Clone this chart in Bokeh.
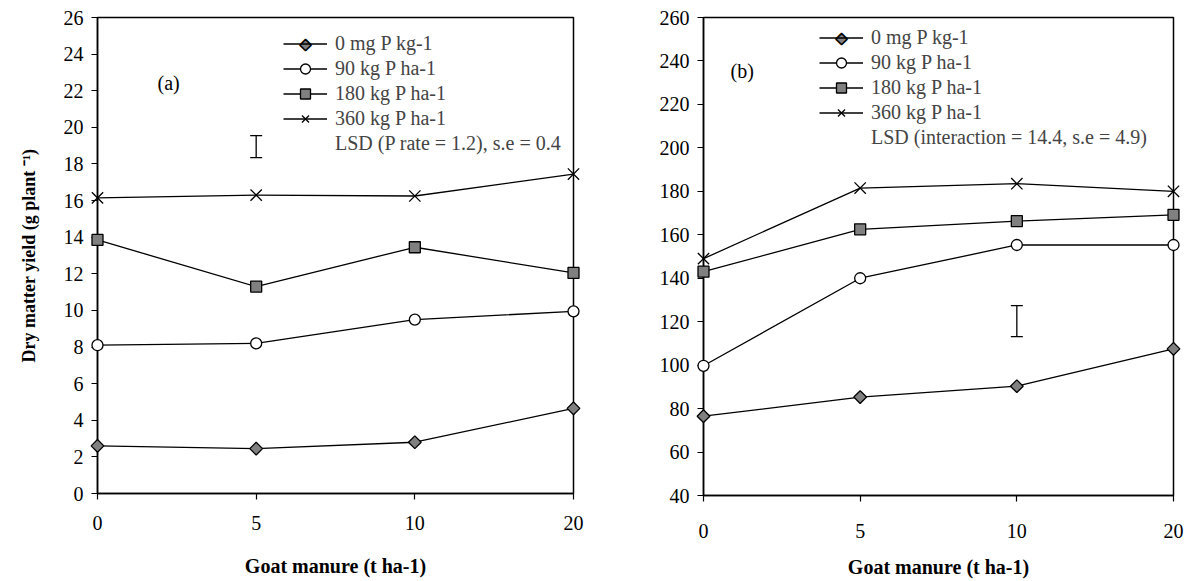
import math
from bokeh.plotting import figure
from bokeh.layouts import row
from bokeh.models import (Range1d, FixedTicker, Legend, LegendItem, Label,
                          Whisker, TeeHead, ColumnDataSource)
from bokeh.embed import file_html
from bokeh.resources import INLINE

# ---------------- data ----------------
manure = ["0", "5", "10", "20"]
series_names = ["0 mg P kg-1", "90 kg P ha-1", "180 kg P ha-1", "360 kg P ha-1"]

# panel (a) dry matter yield (g plant-1)
a_p0 = [2.6, 2.45, 2.8, 4.65]
a_p90 = [8.1, 8.2, 9.5, 9.95]
a_p180 = [13.85, 11.3, 13.45, 12.05]
a_p360 = [16.15, 16.3, 16.25, 17.45]
a_lsd_pos = 1           # at manure = 5
a_lsd_low = 18.35
a_lsd_high = 19.55
a_lsd_text = "LSD (P rate = 1.2), s.e = 0.4"
a_yticks = list(range(0, 27, 2))

# panel (b)
b_p0 = [76.5, 85.3, 90.3, 107.5]
b_p90 = [99.7, 140.0, 155.3, 155.3]
b_p180 = [143.0, 162.5, 166.3, 169.2]
b_p360 = [149.0, 181.5, 183.5, 180.0]
b_lsd_pos = 2           # at manure = 10
b_lsd_low = 113.1
b_lsd_high = 127.4
b_lsd_text = "LSD (interaction = 14.4, s.e = 4.9)"
b_yticks = list(range(40, 261, 20))

FONT = "Liberation Serif"
GRAY = "#808080"
x_pos = list(range(len(manure)))


def make_panel(vals, yr, yticks, lsd_pos, lsd_lo, lsd_hi, lsd_text, tag,
               fw, fh, bl, br, bt, bb, leg_loc, tag_off, xlab_standoff,
               xlab_label_standoff, ylabel=None):
    p = figure(width=bl + fw + br, height=bt + fh + bb,
               x_range=Range1d(0, len(manure) - 1), y_range=Range1d(*yr),
               output_backend="svg", toolbar_location=None,
               min_border_left=bl, min_border_right=br,
               min_border_top=bt, min_border_bottom=bb)
    p.frame_width = fw
    p.frame_height = fh
    p.xgrid.visible = False
    p.ygrid.visible = False
    p.outline_line_color = "black"
    p.outline_line_width = 1.5
    p.background_fill_color = "white"
    p.border_fill_color = "white"

    for ax in (p.xaxis[0], p.yaxis[0]):
        ax.axis_line_color = "black"
        ax.axis_line_width = 1.5
        ax.major_tick_line_color = "black"
        ax.major_tick_line_width = 1.2
        ax.major_tick_out = 6
        ax.major_tick_in = 0
        ax.minor_tick_line_color = None
        ax.major_label_text_font = FONT
        ax.major_label_text_font_size = "20px"
        ax.major_label_text_color = "black"
        ax.axis_label_text_font = FONT
        ax.axis_label_text_font_style = "bold"
        ax.axis_label_text_font_size = "20px"
        ax.axis_label_text_color = "black"

    p.xaxis.ticker = FixedTicker(ticks=x_pos)
    p.xaxis.major_label_overrides = {i: m for i, m in zip(x_pos, manure)}
    p.xaxis.major_label_standoff = xlab_label_standoff
    p.xaxis.axis_label = "Goat manure (t ha-1)"
    p.xaxis.axis_label_standoff = xlab_standoff
    p.yaxis.ticker = FixedTicker(ticks=yticks)
    p.yaxis.major_label_standoff = 8
    if ylabel:
        p.yaxis.axis_label = ylabel
        p.yaxis.axis_label_standoff = 22
        p.yaxis.axis_label_text_font_size = "18px"

    styles = [
        dict(marker="square", angle=math.pi / 4, size=9, fill_color=GRAY),
        dict(marker="circle", size=11, fill_color="white"),
        dict(marker="square", size=11, fill_color=GRAY),
        dict(marker="x", size=16, fill_color=None),
    ]
    items = []
    for k, (name, ys, st) in enumerate(zip(series_names, vals, styles)):
        ln = p.line(x_pos, ys, line_color="black", line_width=1.3)
        sc = p.scatter(x_pos, ys, line_color="black", line_width=1.3,
                       level="overlay", **st)
        rends = [ln] if k == 0 else [ln, sc]
        items.append(LegendItem(label=name, renderers=rends))
    dummy = p.scatter(x=[], y=[], alpha=0)
    items.append(LegendItem(label=lsd_text, renderers=[dummy]))

    src = ColumnDataSource(dict(base=[lsd_pos], lo=[lsd_lo], hi=[lsd_hi]))
    p.add_layout(Whisker(source=src, base="base", lower="lo", upper="hi",
                         dimension="height", line_color="black", line_width=1.3,
                         upper_head=TeeHead(size=12, line_color="black", line_width=1.3),
                         lower_head=TeeHead(size=12, line_color="black", line_width=1.3)))

    leg = Legend(items=items, location=leg_loc, glyph_width=44, glyph_height=25,
                 label_height=25, spacing=0, padding=0, margin=0, label_standoff=8,
                 label_text_font=FONT, label_text_font_size="20px",
                 border_line_color=None, background_fill_alpha=0)
    p.add_layout(leg, "center")

    # diamond key for the first legend entry
    top_row_center = leg_loc[1] + 5 * 25 - 12.5
    p.add_layout(Label(x=0, y=yr[0], x_offset=leg_loc[0] + 22, y_offset=top_row_center,
                       text="\u25c6", text_font="DejaVu Sans", text_font_size="15px",
                       text_align="center", text_baseline="middle",
                       text_color=GRAY, text_outline_color="black"))

    p.add_layout(Label(x=0, y=yr[0], x_offset=tag_off[0], y_offset=tag_off[1],
                       text=tag, text_font=FONT, text_font_size="20px",
                       text_baseline="middle", text_color="black"))
    return p


pa = make_panel([a_p0, a_p90, a_p180, a_p360], (0, 26), a_yticks,
                a_lsd_pos, a_lsd_low, a_lsd_high, a_lsd_text, "(a)",
                fw=476, fh=476, bl=97, br=20, bt=17, bb=88,
                leg_loc=(186, 337), tag_off=(60, 411),
                xlab_standoff=22, xlab_label_standoff=16,
                ylabel="Dry matter yield (g plant \u207b\u00b9)")
pb = make_panel([b_p0, b_p90, b_p180, b_p360], (40, 260), b_yticks,
                b_lsd_pos, b_lsd_low, b_lsd_high, b_lsd_text, "(b)",
                fw=470, fh=478, bl=110, br=20, bt=13, bb=90,
                leg_loc=(116, 345), tag_off=(27, 425),
                xlab_standoff=15, xlab_label_standoff=22)

layout = row(pa, pb)
open("out.html", "w").write(file_html(layout, INLINE))
